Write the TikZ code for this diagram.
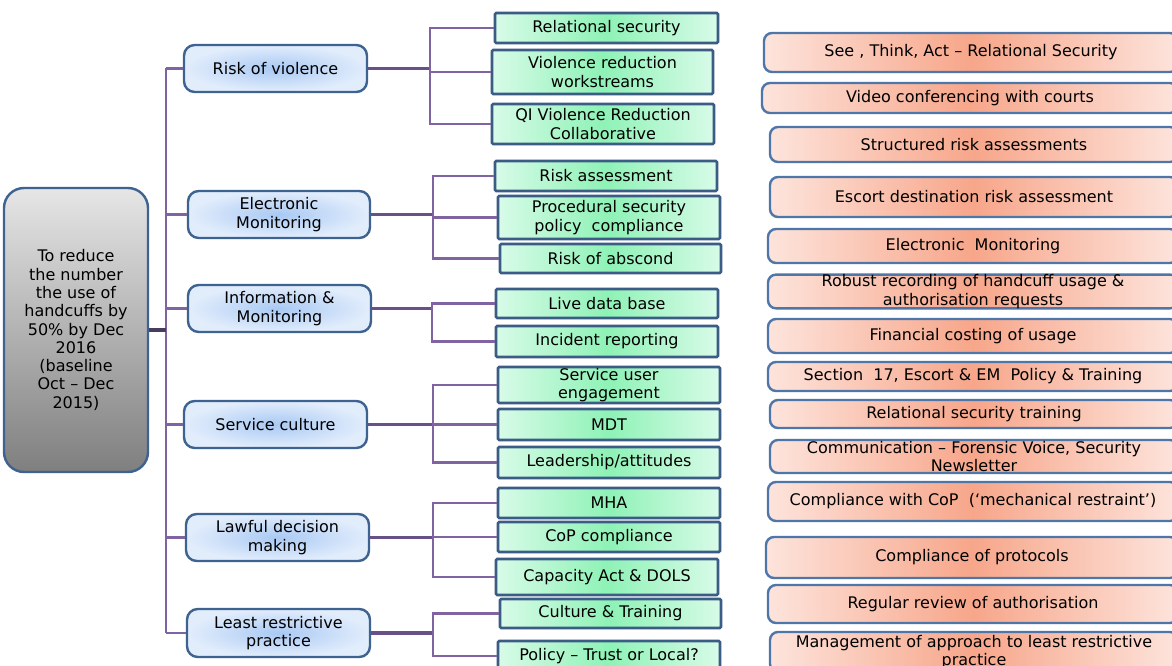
\documentclass[tikz,border=0pt]{standalone}
\usepackage{fontspec}
\setmainfont{DejaVu Sans}
\usetikzlibrary{calc}
\definecolor{lnc}{HTML}{8064A2}
\definecolor{lnk}{HTML}{6A5088}
\definecolor{rootln}{HTML}{4A3C5C}
\definecolor{bord}{HTML}{3E6390}
\definecolor{gbord}{HTML}{3B5C85}
\definecolor{rbord}{HTML}{4F76A8}
\definecolor{bluein}{HTML}{A9C9F3}
\definecolor{blueout}{HTML}{E2EDFC}
\definecolor{gedge}{HTML}{D8FBE8}
\definecolor{gmid}{HTML}{8EF2B6}
\definecolor{redge}{HTML}{FDE4DC}
\definecolor{rmid}{HTML}{F7A68A}
\definecolor{rtop}{HTML}{E6E6E6}
\definecolor{rbot}{HTML}{7F7F7F}
\newcommand\mybox[7]{\node[#2, minimum width={(#5-#3)*0.75pt}, minimum height={(#6-#4)*0.75pt}] (#1) at ({(#3+#5)/2},{(#4+#6)/2}) {#7};}
\tikzset{
  every node/.style={font=\fontsize{12}{13.7}\selectfont, inner sep=0pt, align=center, text=black},
  rootbox/.style={draw=bord, line width=1.8pt, rounded corners=15pt, top color=rtop, bottom color=rbot},
  lbox/.style={draw=bord, line width=1.8pt, rounded corners=8pt, inner color=bluein, outer color=blueout},
  gbox/.style={draw=gbord, line width=2pt, rounded corners=1pt, left color=gedge, right color=gedge, middle color=gmid},
  rbox/.style={draw=rbord, line width=1.8pt, rounded corners=6pt, left color=redge, right color=redge, middle color=rmid},
  conn/.style={draw=lnc, line width=1.6pt},
  connk/.style={draw=lnk, line width=2.6pt},
  rootconn/.style={draw=rootln, line width=2.6pt}
}
\begin{document}
\begin{tikzpicture}[x=0.75pt,y=-0.75pt]
\useasboundingbox (0,0) rectangle (1172,666);
\fill[white] (0,0) rectangle (1172,666);
\clip (0,0) rectangle (1172,666);
% root
\mybox{root}{rootbox}{4}{188}{148}{472}{To reduce\\the number\\the use of\\handcuffs by\\50\% by Dec\\2016\\(baseline\\Oct – Dec\\2015)}
% level 1
\mybox{rv}{lbox}{184}{45}{367}{92}{Risk of violence}
\mybox{em}{lbox}{188}{191}{370}{238}{Electronic\\Monitoring}
\mybox{im}{lbox}{188}{285}{371}{332}{Information \&\\Monitoring}
\mybox{sc}{lbox}{184}{401}{367}{448}{Service culture}
\mybox{ld}{lbox}{186}{514}{369}{561}{Lawful decision\\making}
\mybox{lr}{lbox}{187}{609}{370}{657}{Least restrictive\\practice}
% level 2
\mybox{g1}{gbox}{495}{13}{718}{43}{Relational security}
\mybox{g2}{gbox}{492}{50}{713}{94}{Violence reduction\\workstreams}
\mybox{g3}{gbox}{492}{104}{714}{144}{QI Violence Reduction\\Collaborative}
\mybox{g4}{gbox}{495}{161}{717}{191}{Risk assessment}
\mybox{g5}{gbox}{498}{196}{720}{239}{Procedural security\\policy~ compliance}
\mybox{g6}{gbox}{500}{244}{721}{273}{Risk of abscond}
\mybox{g7}{gbox}{496}{289}{718}{318}{Live data base}
\mybox{g8}{gbox}{496}{326}{718}{357}{Incident reporting}
\mybox{g9}{gbox}{498}{367}{720}{403}{Service user\\engagement}
\mybox{g10}{gbox}{498}{409}{720}{440}{MDT}
\mybox{g11}{gbox}{498}{447}{720}{478}{Leadership/attitudes}
\mybox{g12}{gbox}{498}{488}{720}{518}{MHA}
\mybox{g13}{gbox}{498}{522}{720}{552}{CoP compliance}
\mybox{g14}{gbox}{496}{559}{718}{595}{Capacity Act \& DOLS}
\mybox{g15}{gbox}{500}{599}{721}{628}{Culture \& Training}
\mybox{g16}{gbox}{498}{641}{720}{671}{Policy – Trust or Local?}
% right column
\mybox{r1}{rbox}{764}{33}{1178}{72}{See , Think, Act – Relational Security}
\mybox{r2}{rbox}{762}{83}{1178}{113}{Video conferencing with courts}
\mybox{r3}{rbox}{770}{127}{1178}{162}{Structured risk assessments}
\mybox{r4}{rbox}{770}{177}{1178}{217}{Escort destination risk assessment}
\mybox{r5}{rbox}{768}{229}{1178}{263}{Electronic~ Monitoring}
\mybox{r6}{rbox}{768}{275}{1178}{308}{Robust recording of handcuff usage \&\\authorisation requests}
\mybox{r7}{rbox}{768}{319}{1178}{353}{Financial costing of usage}
\mybox{r8}{rbox}{768}{362}{1178}{391}{Section~ 17, Escort \& EM~ Policy \& Training}
\mybox{r9}{rbox}{770}{400}{1178}{428}{Relational security training}
\mybox{r10}{rbox}{770}{440}{1178}{473}{Communication – Forensic Voice, Security\\Newsletter}
\mybox{r11}{rbox}{768}{482}{1178}{521}{Compliance with CoP~ (‘mechanical restraint’)}
\mybox{r12}{rbox}{766}{537}{1178}{578}{Compliance of protocols}
\mybox{r13}{rbox}{768}{585}{1178}{623}{Regular review of authorisation}
\mybox{r14}{rbox}{770}{632}{1178}{672}{Management of approach to least restrictive\\practice}
% trunk
\coordinate (t) at (166,0);
\draw[conn, line width=2pt] (rv.west -| t) -- (lr.west -| t);
\draw[rootconn] (root.east) -- (root.east -| t);
\foreach \n in {rv,em,im,sc,ld,lr} \draw[conn] (\n.west -| t) -- (\n.west);
% brackets
\coordinate (b1) at (430,0);
\coordinate (b2) at (433,0);
\coordinate (b3) at (432,0);
\draw[connk] (rv.east) -- (rv.east -| b1);
\draw[conn] (g1.west) -- (g1.west -| b1) -- (g3.west -| b1) -- (g3.west);
\draw[conn] (g2.west -| b1) -- (g2.west);
\draw[connk] (em.east) -- (em.east -| b2);
\draw[conn] (g4.west) -- (g4.west -| b2) -- (g6.west -| b2) -- (g6.west);
\draw[conn] (g5.west -| b2) -- (g5.west);
\draw[connk] (im.east) -- (im.east -| b3);
\draw[conn] (g7.west) -- (g7.west -| b3) -- (g8.west -| b3) -- (g8.west);
\draw[connk] (sc.east) -- (sc.east -| b2);
\draw[conn] (g9.west) -- (g9.west -| b2) -- (g11.west -| b2) -- (g11.west);
\draw[conn] (g10.west -| b2) -- (g10.west);
\draw[connk] (ld.east) -- (ld.east -| b2);
\draw[conn] (g12.west) -- (g12.west -| b2) -- (g14.west -| b2) -- (g14.west);
\draw[conn] (g13.west -| b2) -- (g13.west);
\draw[connk] (lr.east) -- (lr.east -| b2);
\draw[conn] (g15.west) -- (g15.west -| b2) -- (g16.west -| b2) -- (g16.west);
\end{tikzpicture}
\end{document}
